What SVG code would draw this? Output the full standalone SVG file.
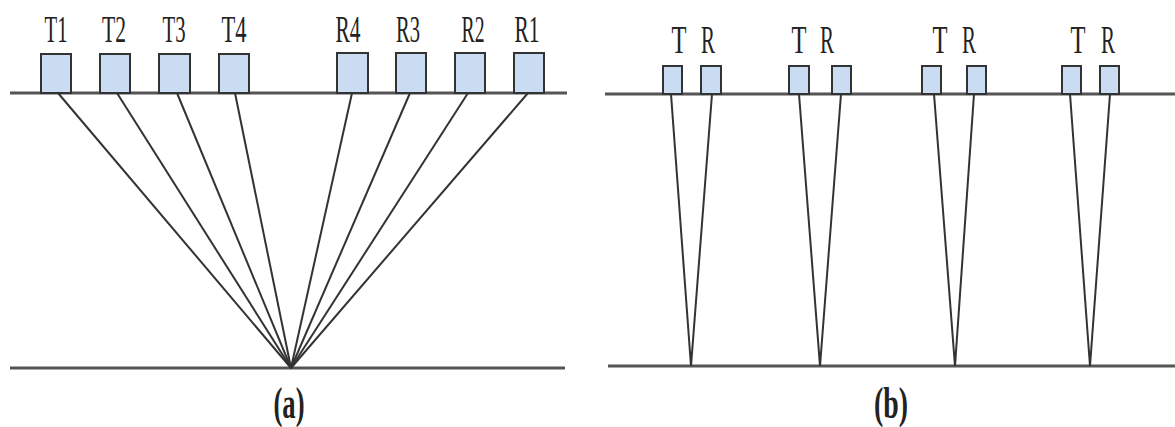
<svg xmlns="http://www.w3.org/2000/svg" width="1175" height="427" viewBox="0 0 1175 427">
  <style>
    .ground { stroke: #555; stroke-width: 3; fill: none; }
    .ray { stroke: #333; stroke-width: 2; fill: none; }
    .elem { fill: #c9dcf2; stroke: #333; stroke-width: 2; }
    .lbl { font-family: "Liberation Serif", "DejaVu Serif", serif; font-size: 38px; fill: #222; text-anchor: middle; }
    .lblb { font-family: "Liberation Serif", "DejaVu Serif", serif; font-size: 41px; fill: #222; text-anchor: middle; }
    .cap { font-family: "Liberation Serif", "DejaVu Serif", serif; font-size: 44px; font-weight: bold; fill: #222; text-anchor: middle; }
  </style>

  <!-- surfaces -->
  <g id="surfaces">
    <line class="ground" x1="10" y1="93" x2="567" y2="93"/>
    <line class="ground" x1="10" y1="368" x2="565" y2="368"/>
    <line class="ground" x1="605" y1="94" x2="1175" y2="94"/>
    <line class="ground" x1="608" y1="366" x2="1175" y2="366"/>
  </g>

  <!-- connectors -->
  <g id="connectors">
    <!-- (a) common midpoint gather -->
    <line class="ray" x1="58" y1="93" x2="291" y2="368"/>
    <line class="ray" x1="117" y1="93" x2="291" y2="368"/>
    <line class="ray" x1="177" y1="93" x2="291" y2="368"/>
    <line class="ray" x1="235" y1="93" x2="291" y2="368"/>
    <line class="ray" x1="352" y1="93" x2="291" y2="368"/>
    <line class="ray" x1="410" y1="93" x2="291" y2="368"/>
    <line class="ray" x1="468" y1="93" x2="291" y2="368"/>
    <line class="ray" x1="528" y1="93" x2="291" y2="368"/>
    <!-- (b) constant offset pairs -->
    <line class="ray" x1="671" y1="94" x2="691" y2="366"/>
    <line class="ray" x1="712" y1="94" x2="691" y2="366"/>
    <line class="ray" x1="799" y1="94" x2="820" y2="366"/>
    <line class="ray" x1="841" y1="94" x2="820" y2="366"/>
    <line class="ray" x1="934" y1="94" x2="955" y2="366"/>
    <line class="ray" x1="974" y1="94" x2="955" y2="366"/>
    <line class="ray" x1="1070" y1="94" x2="1090" y2="366"/>
    <line class="ray" x1="1110" y1="94" x2="1090" y2="366"/>
  </g>

  <!-- (a) transducers -->
  <g id="T1"><rect class="elem" x="41" y="54" width="30" height="39"/><text class="lbl" x="56" y="42" textLength="23" lengthAdjust="spacingAndGlyphs">T1</text></g>
  <g id="T2"><rect class="elem" x="100" y="54" width="30" height="39"/><text class="lbl" x="114" y="42" textLength="24" lengthAdjust="spacingAndGlyphs">T2</text></g>
  <g id="T3"><rect class="elem" x="159" y="54" width="31" height="39"/><text class="lbl" x="174" y="42" textLength="23" lengthAdjust="spacingAndGlyphs">T3</text></g>
  <g id="T4"><rect class="elem" x="219" y="54" width="30" height="39"/><text class="lbl" x="234" y="42" textLength="25" lengthAdjust="spacingAndGlyphs">T4</text></g>
  <g id="R4"><rect class="elem" x="337" y="53" width="31" height="40"/><text class="lbl" x="348" y="42" textLength="25" lengthAdjust="spacingAndGlyphs">R4</text></g>
  <g id="R3"><rect class="elem" x="396" y="53" width="30" height="40"/><text class="lbl" x="408" y="42" textLength="24" lengthAdjust="spacingAndGlyphs">R3</text></g>
  <g id="R2"><rect class="elem" x="455" y="53" width="30" height="40"/><text class="lbl" x="473" y="42" textLength="23" lengthAdjust="spacingAndGlyphs">R2</text></g>
  <g id="R1"><rect class="elem" x="514" y="53" width="30" height="40"/><text class="lbl" x="527" y="42" textLength="25" lengthAdjust="spacingAndGlyphs">R1</text></g>

  <!-- (b) transducer pairs -->
  <g id="pair1">
    <rect class="elem" x="663" y="66" width="19" height="28"/><rect class="elem" x="701" y="66" width="20" height="28"/>
    <text class="lblb" x="679" y="53" textLength="15" lengthAdjust="spacingAndGlyphs">T</text>
    <text class="lblb" x="708" y="53" textLength="14" lengthAdjust="spacingAndGlyphs">R</text>
  </g>
  <g id="pair2">
    <rect class="elem" x="789" y="66" width="20" height="28"/><rect class="elem" x="832" y="66" width="19" height="28"/>
    <text class="lblb" x="799" y="53" textLength="15" lengthAdjust="spacingAndGlyphs">T</text>
    <text class="lblb" x="827" y="53" textLength="14" lengthAdjust="spacingAndGlyphs">R</text>
  </g>
  <g id="pair3">
    <rect class="elem" x="922" y="66" width="19" height="28"/><rect class="elem" x="967" y="66" width="19" height="28"/>
    <text class="lblb" x="940" y="53" textLength="15" lengthAdjust="spacingAndGlyphs">T</text>
    <text class="lblb" x="969" y="53" textLength="14" lengthAdjust="spacingAndGlyphs">R</text>
  </g>
  <g id="pair4">
    <rect class="elem" x="1062" y="66" width="19" height="28"/><rect class="elem" x="1100" y="66" width="19" height="28"/>
    <text class="lblb" x="1078" y="53" textLength="15" lengthAdjust="spacingAndGlyphs">T</text>
    <text class="lblb" x="1108" y="53" textLength="14" lengthAdjust="spacingAndGlyphs">R</text>
  </g>

  <!-- captions -->
  <text class="cap" x="289" y="418" textLength="31" lengthAdjust="spacingAndGlyphs">(a)</text>
  <text class="cap" x="891" y="418" textLength="34" lengthAdjust="spacingAndGlyphs">(b)</text>
</svg>
